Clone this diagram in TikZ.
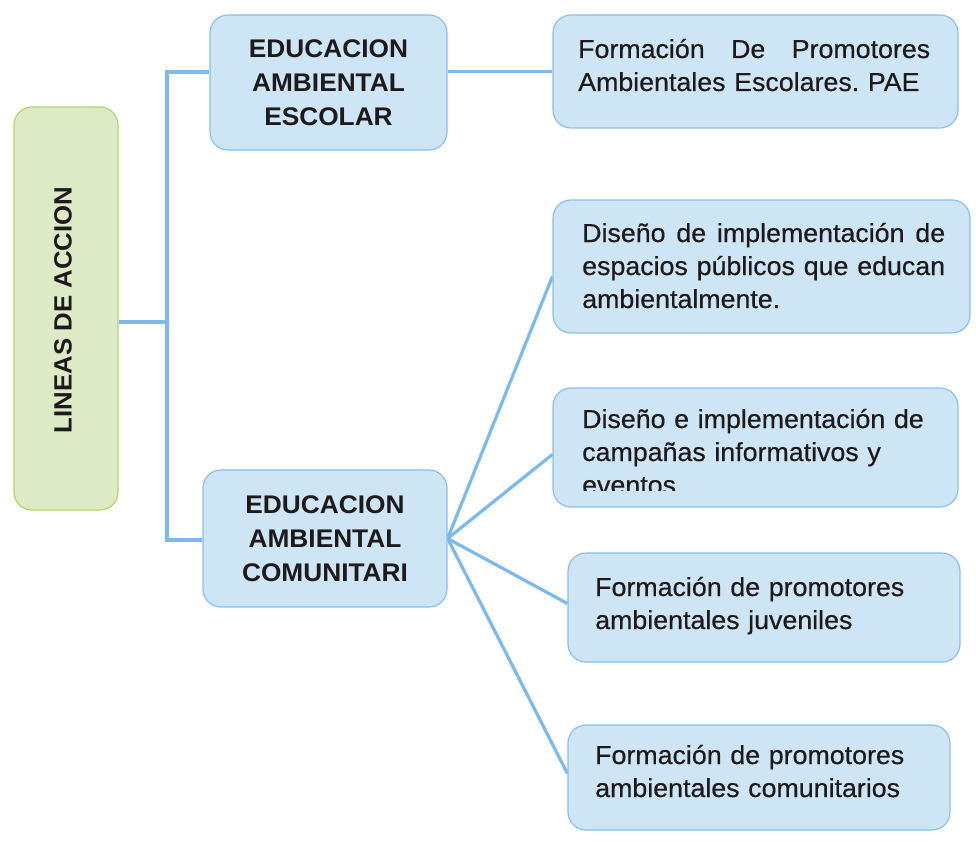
\documentclass[tikz,border=0pt]{standalone}
\usepackage{fontspec}
\setmainfont[FakeStretch=1.03]{Liberation Sans}
\newfontfamily\bodyfont[FakeStretch=1.03,FakeBold=0.5]{Liberation Sans}
\usetikzlibrary{calc,backgrounds}
\definecolor{bfill}{HTML}{CDE5F5}
\definecolor{bdraw}{HTML}{8CC0E8}
\definecolor{gfill}{HTML}{DCEBC5}
\definecolor{gdraw}{HTML}{B5D46A}
\definecolor{lcol}{HTML}{7DB9EC}
\definecolor{tcol}{HTML}{1E1A1B}
\frenchspacing
\begin{document}
\begin{tikzpicture}[x=1pt,y=-1pt,
  box/.style={draw=bdraw, fill=bfill, line width=1.2pt, rounded corners=18pt, inner sep=0pt},
  conn/.style={draw=lcol, line width=3.2pt},
  body/.style={font=\bodyfont\fontsize{26}{33}\selectfont, text=tcol, inner sep=0pt, align=left},
  head/.style={font=\fontsize{25.5}{34}\selectfont\bfseries, text=tcol, align=center, inner sep=0pt}]
\useasboundingbox (0,0) rectangle (976,842);

% boxes
\node[box, fill=gfill, draw=gdraw, minimum width=104pt, minimum height=403pt] (lineas) at (66,308.5) {};
\node[head, rotate=90, font=\fontsize{25}{30}\selectfont\bfseries] (lineast) at (63,310) {LINEAS DE ACCION};

\node[box, head, minimum width=237pt, minimum height=135pt] (eae) at (328.5,82.5) {EDUCACION\\AMBIENTAL\\ESCOLAR};
\node[box, head, minimum width=244pt, minimum height=137pt] (eac) at (325,538.5) {EDUCACION\\AMBIENTAL\\COMUNITARI};

\node[box, minimum width=405pt, minimum height=113pt] (f1) at (755.5,71.5) {};
\node[body, text width=352pt, anchor=base west] (f1t) at (578,58) {Formación\hfill De\hfill Promotores\\Ambientales Escolares. PAE};

\node[box, minimum width=417pt, minimum height=133pt] (d1) at (761.5,266.5) {};
\node[body, text width=363pt, anchor=base west] (d1t) at (582,242) {Diseño\hfill de\hfill implementación\hfill de\\espacios\hfill públicos\hfill que\hfill educan\\ambientalmente.};

\node[box, minimum width=405pt, minimum height=119pt] (d2) at (755.5,447.5) {};
\begin{scope}
  \clip (d2.north west) rectangle ($(d2.south east)+(0,-17)$);
  \node[body, text width=370pt, anchor=base west] (d2t) at (582,428) {Diseño e implementación de\\campañas informativos y\\eventos};
\end{scope}

\node[box, minimum width=392pt, minimum height=109pt] (f2) at (764,607.5) {};
\node[body, text width=340pt, anchor=base west] (f2t) at (595,596) {Formación de promotores\\ambientales juveniles};

\node[box, minimum width=382pt, minimum height=105pt] (f3) at (759,777.5) {};
\node[body, text width=340pt, anchor=base west] (f3t) at (595,764) {Formación de promotores\\ambientales comunitarios};

% connectors
\begin{scope}[on background layer]
  \fill[white] (0,0) rectangle (976,842);
  \coordinate (j) at (167,322);
  \coordinate (vtop) at (167,72);
  \coordinate (vbot) at (167,540);
  \draw[conn] (lineas.east |- j) -- (j);
  \draw[conn] (eae.west |- vtop) -- (vtop) -- (vbot) -- (eac.west |- vbot);
  \draw[conn] (eae.east |- f1.west) -- (f1.west);
  \draw[conn] (eac.east) -- ($(d1.west)+(0,10)$);
  \draw[conn] (eac.east) -- ($(d2.west)+(0,7)$);
  \draw[conn] (eac.east) -- ($(f2.west)+(0,-4)$);
  \draw[conn] (eac.east) -- ($(f3.west)+(0,-4)$);
\end{scope}
\end{tikzpicture}
\end{document}
